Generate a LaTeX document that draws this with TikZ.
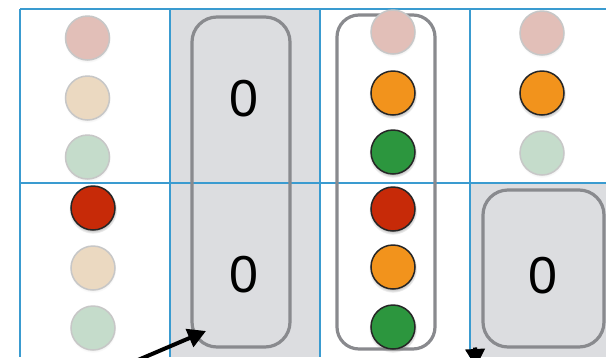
\documentclass[tikz,border=0pt]{standalone}
\usepackage{fontspec}
\setmainfont{Liberation Sans}
\usetikzlibrary{shadows,arrows.meta}
\definecolor{gridblue}{HTML}{3A9BD0}
\definecolor{cellgray}{HTML}{DCDDE0}
\definecolor{boxgray}{HTML}{898A8E}
\definecolor{pinkoff}{HTML}{E2BFB8}
\definecolor{beigeoff}{HTML}{EBD9C1}
\definecolor{greenoff}{HTML}{C5DCCB}
\definecolor{redon}{HTML}{C72A08}
\definecolor{orangeon}{HTML}{F2931C}
\definecolor{greenon}{HTML}{2C963E}
\tikzset{
  lamp/.style={circle, minimum size=44pt, inner sep=0pt, line width=1.5pt},
  lampon/.style={lamp, draw=black!85, circular drop shadow={shadow xshift=0pt, shadow yshift=-1.5pt, shadow scale=1.1, opacity=0.45}},
  lampoff/.style={lamp, draw=black!22, circular drop shadow={shadow xshift=0pt, shadow yshift=-1.5pt, shadow scale=1.06, opacity=0.12}},
  gridline/.style={draw=gridblue, line width=2pt},
  groupbox/.style={draw=boxgray, line width=3.2pt},
  zero/.style={font=\fontsize{52}{60}\selectfont, inner sep=0pt},
  pointer/.style={line width=4pt, -{Triangle[length=18pt,width=19pt]}}
}
\begin{document}
\begin{tikzpicture}[x=1pt,y=-1pt]
\useasboundingbox (0,0) rectangle (606,357);
\clip (0,0) rectangle (606,357);
\fill[white] (0,0) rectangle (606,357);
% gray cells
\fill[cellgray] (170,9) rectangle (320,357);
\fill[cellgray] (470,183) rectangle (606,357);
% grid
\draw[gridline] (20,9) -- (606,9);
\draw[gridline] (20,183) -- (606,183);
\draw[gridline] (20,9) -- (20,357);
\draw[gridline] (170,9) -- (170,357);
\draw[gridline] (320,9) -- (320,357);
\draw[gridline] (470,9) -- (470,357);
% group boxes
\draw[groupbox, rounded corners=25pt] (192,17) rectangle (290,347);
\draw[groupbox, rounded corners=22pt] (337,15) rectangle (435,349);
\draw[groupbox, rounded corners=25pt] (483,190) rectangle (604,347);
% zeros
\node[zero] (z1) at (244,99) {0};
\node[zero] (z2) at (244,275) {0};
\node[zero] (z3) at (543,276) {0};
% column 1
\node[lampoff, fill=pinkoff] (a1) at (87.5,38) {};
\node[lampoff, fill=beigeoff] (a2) at (87.5,98) {};
\node[lampoff, fill=greenoff] (a3) at (87.5,157) {};
\node[lampon, fill=redon] (b1) at (93,208) {};
\node[lampoff, fill=beigeoff] (b2) at (93,268) {};
\node[lampoff, fill=greenoff] (b3) at (93,328) {};
% column 3
\node[lampoff, fill=pinkoff] (c1) at (393,32) {};
\node[lampon, fill=orangeon] (c2) at (393,93) {};
\node[lampon, fill=greenon] (c3) at (393,152) {};
\node[lampon, fill=redon] (d1) at (393,209) {};
\node[lampon, fill=orangeon] (d2) at (393,267) {};
\node[lampon, fill=greenon] (d3) at (393,327) {};
% column 4
\node[lampoff, fill=pinkoff] (e1) at (542,33) {};
\node[lampon, fill=orangeon] (e2) at (542,93) {};
\node[lampoff, fill=greenoff] (e3) at (542,153) {};
% arrows
\coordinate (p1s) at (138,360);
\coordinate (p1e) at (206,331);
\draw[pointer] (p1s) -- (p1e);
\coordinate (p2s) at (475,347.5);
\coordinate (p2e) at (476,367);
\draw[pointer] (p2s) -- (p2e);
\end{tikzpicture}
\end{document}
